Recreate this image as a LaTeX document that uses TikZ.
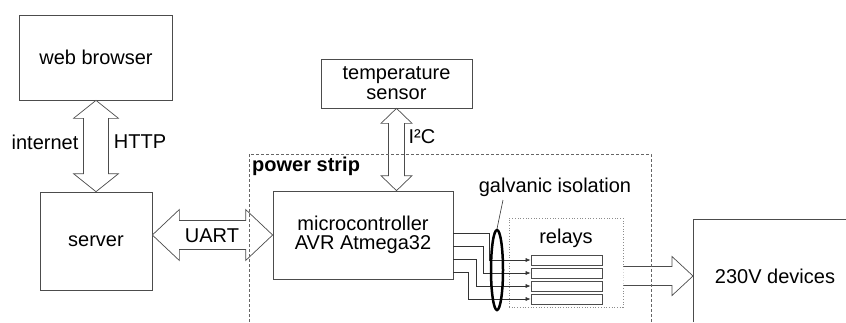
\documentclass[tikz,border=0pt]{standalone}
\usepackage{fontspec}
\setmainfont{Liberation Sans}
\usetikzlibrary{calc,arrows.meta,shapes.geometric}
\newcommand{\vdarrow}[5]{%
  \draw[bigarrow] (#1) -- ($(#1)+(#3,#5)$) -- ($(#1)+(#4,#5)$) -- ($(#2)+(#4,-#5)$) -- ($(#2)+(#3,-#5)$) -- (#2)
    -- ($(#2)+(-#3,-#5)$) -- ($(#2)+(-#4,-#5)$) -- ($(#1)+(-#4,#5)$) -- ($(#1)+(-#3,#5)$) -- cycle;}
\newcommand{\hdarrow}[5]{%
  \draw[bigarrow] (#1) -- ($(#1)+(#5,-#3)$) -- ($(#1)+(#5,-#4)$) -- ($(#2)+(-#5,-#4)$) -- ($(#2)+(-#5,-#3)$) -- (#2)
    -- ($(#2)+(-#5,#3)$) -- ($(#2)+(-#5,#4)$) -- ($(#1)+(#5,#4)$) -- ($(#1)+(#5,#3)$) -- cycle;}
\begin{document}
\begin{tikzpicture}[x=1pt,y=-1pt,
  box/.style={draw=black!70, line width=0.7pt, rectangle, inner sep=0pt, align=center,
              font=\fontsize{20}{20}\selectfont},
  lbl/.style={inner sep=0pt, align=center, font=\fontsize{20}{20}\selectfont},
  bigarrow/.style={draw=black!70, line width=0.7pt, fill=white, line join=miter},
  wire/.style={draw=black!80, line width=0.6pt, -{Latex[length=5pt,width=4pt]}},
  relay/.style={draw=black!70, line width=0.7pt, rectangle, inner sep=0pt,
                minimum width=71pt, minimum height=10pt},
]
\useasboundingbox (0,0) rectangle (846,322);

% boxes
\node[box, minimum width=153pt, minimum height=85pt] (wb) at (96,57.5) {web browser};
\node[box, minimum width=112pt, minimum height=98pt] (srv) at (96,241) {server};
\node[box, minimum width=151pt, minimum height=49pt, font=\fontsize{20}{20}\selectfont] (ts) at (396.5,83.5) {temperature\\sensor};
\node[box, minimum width=180pt, minimum height=88pt, font=\fontsize{20}{19}\selectfont] (mc) at (363,235) {microcontroller\\AVR Atmega32};
\node[draw=black!45, dotted, line width=0.7pt, rectangle, minimum width=114pt, minimum height=89pt, inner sep=0pt] (rb) at (566,262.5) {};
\node[lbl] (rl) at (566,238) {relays};
\node[relay] (r1) at (566.5,260) {};
\node[relay] (r2) at (566.5,273) {};
\node[relay] (r3) at (566.5,286) {};
\node[relay] (r4) at (566.5,299) {};

% 230V devices
\node[lbl] (dev) at (775,276) {230V devices};
\coordinate (devL) at (693,276);
\draw[draw=black!70, line width=0.7pt] (693,322) -- (693,219) -- (846,219);

% big arrows
\vdarrow{wb.south}{srv.north}{22.5}{12.5}{18}
\hdarrow{srv.east |- mc.west}{mc.west}{25.5}{14.5}{27}
\vdarrow{ts.south}{ts.south |- mc.north}{15.5}{8}{15}
\coordinate (oa) at (rb.east |- devL);
\draw[bigarrow] ($(oa)+(0,-9.5)$) -- ($(devL)+(-21,-9.5)$) -- ($(devL)+(-21,-19.5)$) -- (devL)
  -- ($(devL)+(-21,19.5)$) -- ($(devL)+(-21,9.5)$) -- ($(oa)+(0,9.5)$);

% power strip enclosure
\draw[dashed, draw=black!60, line width=0.6pt, dash pattern=on 3pt off 2pt]
  (249,322) -- (249,154) -- (651,154) -- (651,322);
\node[lbl, anchor=west, font=\fontsize{20}{20}\selectfont\bfseries] (ps) at (252,166) {power strip};

% labels
\node[lbl] (inet) at (45,142) {internet};
\node[lbl] (http) at (140,142) {HTTP};
\node[lbl] (uart) at (212,236) {UART};
\node[lbl] (i2c) at (422,137) {I²C};
\node[lbl] (gal) at (555,187) {galvanic isolation};

% wires to relays
\draw[wire] ($(mc.east)+(0,-2)$) -- ++(36,0) |- (r1.west);
\draw[wire] ($(mc.east)+(0,11)$) -- ++(30,0) |- (r2.west);
\draw[wire] ($(mc.east)+(0,24)$) -- ++(23,0) |- (r3.west);
\draw[wire] ($(mc.east)+(0,37)$) -- ++(15,0) |- (r4.west);

% galvanic isolation
\node[ellipse, draw=black, line width=2.5pt, minimum width=12pt, minimum height=80pt, inner sep=0pt] (iso) at (497,270) {};
\coordinate (galp) at (503,200);
\draw[black!80, line width=0.6pt] (galp) -- (iso.north);
\end{tikzpicture}
\end{document}
